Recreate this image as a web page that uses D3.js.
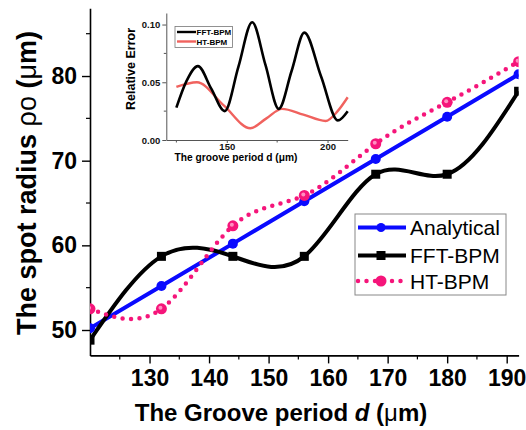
<!DOCTYPE html>
<html>
<head>
<meta charset="utf-8">
<style>
body { margin: 0; background: #fff; }
text { font-family: "Liberation Sans", Arial, sans-serif; }
</style>
</head>
<body>
<svg id="chart" width="526" height="430"></svg>
<script src="https://cdn.jsdelivr.net/npm/d3@7/dist/d3.min.js"></script>
<script>
    // main plot data
    const grooveD = [120, 132, 144, 156, 168, 180, 192];
    const analytical = [50.2, 55.2, 60.2, 65.2, 70.2, 75.2, 80.2];
    const fftBpm = [48.8, 58.7, 58.7, 58.7, 68.4, 68.4, 78.2];
    const htBpm = [52.5, 52.5, 62.3, 65.9, 72.0, 76.9, 81.7];
    const xTickLabels = [130, 140, 150, 160, 170, 180, 190];
    const yTickLabels = [50, 60, 70, 80];

    // inset data (relative error)
    const insetFftD = [125, 130, 135.7, 142.3, 149, 155.8, 162.6, 169.2, 175.8, 182.2, 188.5, 196.8, 205.1, 210];
    const insetFftErr = [0.028, 0.051, 0.064, 0.0445, 0.025, 0.0635, 0.102, 0.065, 0.027, 0.060, 0.093, 0.055, 0.017, 0.025];
    const insetHtD = [125, 135.2, 148.5, 161.7, 169.5, 177.4, 188, 199, 205, 210];
    const insetHtErr = [0.046, 0.050, 0.030, 0.0102, 0.0185, 0.027, 0.022, 0.0165, 0.025, 0.037];
    const insetXTicks = [150, 200];
    const insetYTicks = [0, 0.05, 0.10];

    const svg = d3.select("#chart");

    const x = d3.scaleLinear().domain([120, 192]).range([90, 518.6]);
    const y = d3.scaleLinear().domain([47, 88]).range([355.4, 8.3]);

    const blue = "#0a0aff";
    const pink = "#f5157a";

    // clip for the plot area
    svg.append("clipPath").attr("id", "plot-clip")
        .append("rect")
        .attr("x", x(120)).attr("y", y(88))
        .attr("width", x(192) - x(120)).attr("height", y(47) - y(88));

    // axes
    const xAxis = d3.axisBottom(x).tickValues(xTickLabels).tickSize(8).tickSizeOuter(0).tickPadding(6);
    const yAxis = d3.axisLeft(y).tickValues(yTickLabels).tickSize(8).tickSizeOuter(0).tickPadding(5);

    const gx = svg.append("g").attr("transform", `translate(0,${y(47)})`).call(xAxis);
    const gy = svg.append("g").attr("transform", `translate(${x(120)},0)`).call(yAxis);
    [gx, gy].forEach(g => {
        g.select(".domain").attr("stroke", "#000").attr("stroke-width", 1.6);
        g.selectAll(".tick line").attr("stroke", "#000").attr("stroke-width", 1.4);
        g.selectAll(".tick text")
            .attr("fill", "#000")
            .attr("font-size", "23px")
            .attr("font-weight", "bold")
            .attr("font-family", "Liberation Sans, Arial");
    });

    // minor ticks
    svg.append("g").selectAll("line")
        .data(d3.range(125, 192, 10))
        .enter().append("line")
        .attr("x1", d => x(d)).attr("x2", d => x(d))
        .attr("y1", y(47)).attr("y2", y(47) + 4)
        .attr("stroke", "#000").attr("stroke-width", 1.2);
    svg.append("g").selectAll("line")
        .data([55, 65, 75, 85])
        .enter().append("line")
        .attr("x1", x(120)).attr("x2", x(120) - 4)
        .attr("y1", d => y(d)).attr("y2", d => y(d))
        .attr("stroke", "#000").attr("stroke-width", 1.2);

    // axis titles
    const xTitle = svg.append("text")
        .attr("x", 281).attr("y", 420.5)
        .attr("text-anchor", "middle")
        .attr("font-size", "24px").attr("font-weight", "bold");
    xTitle.append("tspan").text("The Groove period ");
    xTitle.append("tspan").attr("font-style", "italic").text("d");
    xTitle.append("tspan").text(" (");
    xTitle.append("tspan").attr("font-weight", "normal").text("μ");
    xTitle.append("tspan").text("m)");

    const yTitle = svg.append("text")
        .attr("transform", "translate(36,183) rotate(-90)")
        .attr("text-anchor", "middle")
        .attr("font-size", "27px").attr("font-weight", "bold");
    yTitle.append("tspan").text("The spot radius ");
    yTitle.append("tspan").attr("font-weight", "normal").text("ρo");
    yTitle.append("tspan").text(" (");
    yTitle.append("tspan").attr("font-weight", "normal").text("μ");
    yTitle.append("tspan").text("m)");

    // series
    const plot = svg.append("g").attr("clip-path", "url(#plot-clip)");

    function seriesLine(vals) {
        return d3.line()
            .x((d, i) => x(grooveD[i]))
            .y(d => y(d))
            .curve(d3.curveNatural)(vals);
    }

    plot.append("path")
        .attr("d", d3.line().x((d, i) => x(grooveD[i])).y(d => y(d))(analytical))
        .attr("fill", "none").attr("stroke", blue).attr("stroke-width", 4);

    plot.append("path")
        .attr("d", seriesLine(fftBpm))
        .attr("fill", "none").attr("stroke", "#000").attr("stroke-width", 4);

    plot.append("path")
        .attr("d", seriesLine(htBpm))
        .attr("fill", "none").attr("stroke", pink).attr("stroke-width", 4.5)
        .attr("stroke-linecap", "round").attr("stroke-dasharray", "0 8.5");

    plot.selectAll("circle.analytical")
        .data(analytical).enter().append("circle")
        .attr("cx", (d, i) => x(grooveD[i])).attr("cy", d => y(d))
        .attr("r", 5).attr("fill", blue);

    plot.selectAll("rect.fft")
        .data(fftBpm).enter().append("rect")
        .attr("x", (d, i) => x(grooveD[i]) - 4.5).attr("y", d => y(d) - 4.5)
        .attr("width", 9).attr("height", 9).attr("fill", "#000");

    plot.selectAll("circle.ht")
        .data(htBpm).enter().append("circle")
        .attr("cx", (d, i) => x(grooveD[i])).attr("cy", d => y(d))
        .attr("r", 5.5).attr("fill", pink);
    plot.selectAll("circle.ht-hi")
        .data(htBpm).enter().append("circle")
        .attr("cx", (d, i) => x(grooveD[i]) - 1).attr("cy", d => y(d) - 1)
        .attr("r", 2).attr("fill", "#ff8fc0");

    // legend
    const legend = svg.append("g");
    legend.append("rect")
        .attr("x", 355).attr("y", 214).attr("width", 151).attr("height", 81)
        .attr("fill", "#fff").attr("stroke", "#888").attr("stroke-width", 1);

    const legendItems = [
        {name: "Analytical", color: blue, y: 227.5, dash: null, marker: "circle"},
        {name: "FFT-BPM", color: "#000", y: 255.5, dash: null, marker: "square"},
        {name: "HT-BPM", color: pink, y: 281, dash: "0 8.5", marker: "ball"}
    ];
    legendItems.forEach(it => {
        const ln = legend.append("line")
            .attr("x1", 358).attr("x2", 406).attr("y1", it.y).attr("y2", it.y)
            .attr("stroke", it.color).attr("stroke-width", it.dash ? 4.5 : 4);
        if (it.dash) ln.attr("stroke-dasharray", it.dash).attr("stroke-linecap", "round");
        if (it.marker === "square") {
            legend.append("rect").attr("x", 376.5).attr("y", it.y - 4.5)
                .attr("width", 9).attr("height", 9).attr("fill", "#000");
        } else {
            legend.append("circle").attr("cx", 381).attr("cy", it.y)
                .attr("r", it.marker === "ball" ? 5.5 : 4.5).attr("fill", it.color);
        }
        legend.append("text")
            .attr("x", 410).attr("y", it.y + 7.5)
            .attr("font-size", "21px").attr("fill", "#000")
            .text(it.name);
    });

    // inset
    const ix = d3.scaleLinear().domain([120, 210]).range([166.3, 347.7]);
    const iy = d3.scaleLinear().domain([0, 0.11]).range([140, 13]);
    const inset = svg.append("g");

    const ixAxis = d3.axisBottom(ix).tickValues(insetXTicks).tickSize(3).tickSizeOuter(0).tickPadding(0);
    const iyAxis = d3.axisLeft(iy).tickValues(insetYTicks).tickSize(4).tickSizeOuter(0).tickPadding(2)
        .tickFormat(d3.format(".2f"));
    const igx = inset.append("g").attr("transform", `translate(0,${iy(0)})`).call(ixAxis);
    const igy = inset.append("g").attr("transform", `translate(${ix(120)},0)`).call(iyAxis);
    [igx, igy].forEach(g => {
        g.select(".domain").attr("stroke", "#555").attr("stroke-width", 1);
        g.selectAll(".tick line").attr("stroke", "#555");
        g.selectAll(".tick text")
            .attr("fill", "#111")
            .attr("font-size", "9.5px")
            .attr("font-weight", "bold")
            .attr("font-family", "Liberation Sans, Arial");
    });
    inset.append("g").selectAll("line")
        .data([125, 175])
        .enter().append("line")
        .attr("x1", d => ix(d)).attr("x2", d => ix(d))
        .attr("y1", iy(0)).attr("y2", iy(0) + 2.5)
        .attr("stroke", "#555");
    inset.append("g").selectAll("line")
        .data([0.025, 0.075])
        .enter().append("line")
        .attr("x1", ix(120)).attr("x2", ix(120) - 2.5)
        .attr("y1", d => iy(d)).attr("y2", d => iy(d))
        .attr("stroke", "#555");

    inset.append("text")
        .attr("transform", "translate(134.5,69) rotate(-90)")
        .attr("text-anchor", "middle")
        .attr("font-size", "12.5px").attr("font-weight", "bold")
        .text("Relative Error");
    inset.append("text")
        .attr("x", 236).attr("y", 161)
        .attr("text-anchor", "middle")
        .attr("font-size", "10.2px").attr("font-weight", "bold")
        .text("The groove period d (μm)");

    const insetLine = (xs) => d3.line()
        .x((d, i) => ix(xs[i]))
        .y(d => iy(d))
        .curve(d3.curveMonotoneX);

    inset.append("path")
        .attr("d", insetLine(insetHtD)(insetHtErr))
        .attr("fill", "none").attr("stroke", "#f0625e").attr("stroke-width", 2.4);
    inset.append("path")
        .attr("d", insetLine(insetFftD)(insetFftErr))
        .attr("fill", "none").attr("stroke", "#000").attr("stroke-width", 2.6);

    // inset legend
    inset.append("rect")
        .attr("x", 175).attr("y", 26.5).attr("width", 57.5).attr("height", 21)
        .attr("fill", "#fff").attr("stroke", "#777").attr("stroke-width", 0.8);
    [{name: "FFT-BPM", color: "#000", y: 32}, {name: "HT-BPM", color: "#f0625e", y: 41.5}].forEach(it => {
        inset.append("line")
            .attr("x1", 177).attr("x2", 196).attr("y1", it.y).attr("y2", it.y)
            .attr("stroke", it.color).attr("stroke-width", 2.4);
        inset.append("text")
            .attr("x", 196.5).attr("y", it.y + 3)
            .attr("font-size", "8px").attr("font-weight", "bold")
            .text(it.name);
    });
</script>
</body>
</html>
